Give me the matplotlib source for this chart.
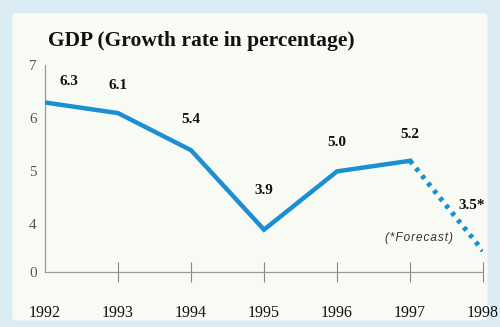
import matplotlib.pyplot as plt
from matplotlib.patches import FancyBboxPatch

years = [1992, 1993, 1994, 1995, 1996, 1997]
growth = [6.3, 6.1, 5.4, 3.9, 5.0, 5.2]
forecast_years = [1997, 1998]
forecast = [5.2, 3.5]
value_labels = ["6.3", "6.1", "5.4", "3.9", "5.0", "5.2"]
ytick_vals = [3.1, 4, 5, 6, 7]
ytick_labels = ["0", "4", "5", "6", "7"]

blue = "#1b8fd2"
serif = ["Liberation Serif", "DejaVu Serif"]

fig = plt.figure(figsize=(5, 3.27), dpi=100)
fig.patch.set_facecolor("#dcecf4")

# light background panel behind the chart
bg = fig.add_axes([0, 0, 1, 1], zorder=-1)
bg.set_axis_off()
bg.add_patch(FancyBboxPatch((0.025, 0.02), 0.95, 0.94, boxstyle="round,pad=0,rounding_size=0.01",
                            transform=bg.transAxes, facecolor="#f8faf4", edgecolor="none"))

ax = fig.add_axes([0.09, 0.168, 0.876, 0.632])
ax.set_facecolor("none")

ax.plot(years, growth, color=blue, lw=3.2, solid_joinstyle="miter", zorder=3)
ax.plot(forecast_years, forecast, color=blue, lw=3.6, linestyle=(0, (0.8, 1.1)), zorder=3)

# value labels (offsets in points)
offsets = [(17, 15), (0, 20), (0, 22), (0, 28), (0, 21), (0, 19)]
for x, y, t, (dx, dy) in zip(years, growth, value_labels, offsets):
    ax.annotate(t, (x, y), xytext=(dx, dy), textcoords="offset points", ha="center", va="center",
                fontsize=11, fontweight="bold", family=serif, color="#111111")
ax.annotate("3.5*", (1998, 3.5), xytext=(-8, 33), textcoords="offset points", ha="center",
            va="center", fontsize=11, fontweight="bold", family=serif, color="#111111")
ax.text(1997.12, 3.74, "( * F o r e c a s t )".replace(" ", "\u200a"), ha="center", va="center",
        fontsize=8.5, style="italic", family=["Liberation Sans", "DejaVu Sans"], color="#333333")

ax.set_xlim(1992, 1998)
ax.set_ylim(3.1, 7.0)
ax.set_yticks(ytick_vals)
ax.set_yticklabels(ytick_labels, family=serif, fontsize=11, color="#555555")
ax.set_xticks(years[1:] + [1998])
ax.set_xticklabels([])
ax.tick_params(axis="y", length=0, pad=6)
ax.tick_params(axis="x", direction="inout", length=14, width=0.8, color="#888888")

for yr in years + [1998]:
    ax.text(yr, -0.2, str(yr), transform=ax.get_xaxis_transform(), ha="center", va="center",
            fontsize=11.5, family=serif, color="#111111", clip_on=False)

for s in ["top", "right"]:
    ax.spines[s].set_visible(False)
ax.spines["left"].set_color("#999999")
ax.spines["bottom"].set_color("#999999")
ax.spines["left"].set_linewidth(0.9)
ax.spines["bottom"].set_linewidth(0.9)

fig.text(0.096, 0.874, "GDP (Growth rate in percentage)", ha="left", va="center",
         fontsize=15.5, fontweight="bold", family=serif, color="#111111")

fig.savefig("out.png", dpi=100, facecolor=fig.get_facecolor())
